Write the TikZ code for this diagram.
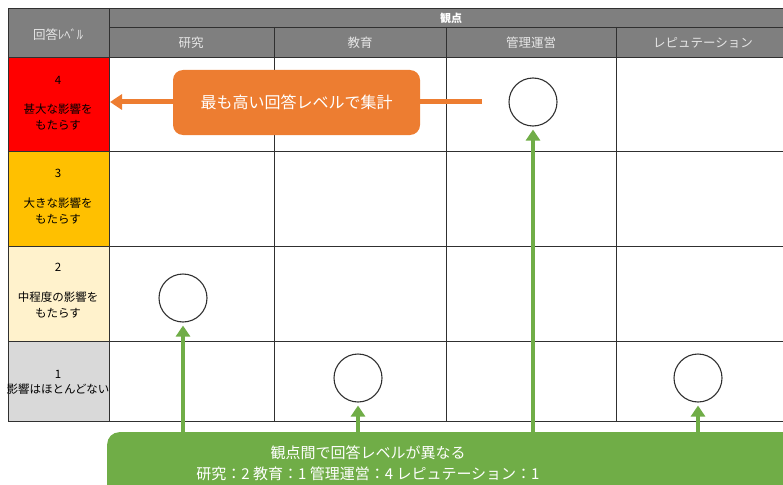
\documentclass[tikz,border=0pt]{standalone}
\usepackage{fontspec}
\setmainfont{Noto Sans CJK JP}
\usetikzlibrary{arrows.meta}
\definecolor{hdr}{HTML}{7F7F7F}
\definecolor{hdrtxt}{HTML}{E6E6E6}
\definecolor{lvfour}{HTML}{FF0000}
\definecolor{lvthree}{HTML}{FFC000}
\definecolor{lvtwo}{HTML}{FFF2CC}
\definecolor{lvone}{HTML}{D9D9D9}
\definecolor{orng}{HTML}{ED7D31}
\definecolor{grn}{HTML}{70AD47}
\definecolor{gridc}{HTML}{303030}
\tikzset{
  gridline/.style={draw=gridc, line width=0.9pt},
  hdrtext/.style={text=hdrtxt, font=\fontsize{12.5}{14}\selectfont, inner sep=0pt},
  lvtext/.style={text=black, font=\fontsize{11.5}{15.5}\selectfont, align=center, inner sep=0pt},
  mark circle/.style={circle, draw=gridc, line width=1.1pt, fill=white, minimum size=48pt, inner sep=0pt},
  oarrow/.style={draw=orng, line width=5pt, -{Triangle[width=15pt,length=12pt]}},
  garrow/.style={draw=grn, line width=4.5pt, -{Triangle[width=14pt,length=11pt]}},
  obox/.style={fill=orng, rounded corners=10pt, minimum width=247pt, minimum height=65pt, inner sep=0pt},
  gbox/.style={fill=grn, rounded corners=12pt, minimum width=700pt, minimum height=70pt, inner sep=0pt, anchor=north west},
  boxtext/.style={text=white, inner sep=0pt}
}
\begin{document}
\begin{tikzpicture}[x=1pt,y=-1pt]
\useasboundingbox (0,0) rectangle (783,484);
\begin{scope}
\clip (0,0) rectangle (783,484);
% fills
\fill[hdr] (8,8) rectangle (790,57);
\fill[lvfour] (8,57) rectangle (109,151);
\fill[lvthree] (8,151) rectangle (109,246);
\fill[lvtwo] (8,246) rectangle (109,341);
\fill[lvone] (8,341) rectangle (109,421);
% grid
\draw[gridline] (8,8) rectangle (790,421);
\draw[gridline] (109,27) -- (790,27);
\draw[gridline] (8,57) -- (790,57);
\draw[gridline] (8,151) -- (790,151);
\draw[gridline] (8,246) -- (790,246);
\draw[gridline] (8,341) -- (790,341);
\draw[gridline] (109,8) -- (109,421);
\draw[gridline] (274,27) -- (274,421);
\draw[gridline] (446,27) -- (446,421);
\draw[gridline] (616,27) -- (616,421);
% header texts
\node[hdrtext] (hlevel) at (58,35) {回答ﾚﾍﾞﾙ};
\node[text=white, font=\fontsize{11}{13}\selectfont\bfseries, inner sep=0pt] (hview) at (451,18) {観点};
\node[hdrtext] (hres) at (191,43) {研究};
\node[hdrtext] (hedu) at (360,43) {教育};
\node[hdrtext] (hman) at (531,43) {管理運営};
\node[hdrtext] (hrep) at (703,43) {レピュテーション};
% level texts
\node[lvtext] (n4) at (58,80) {4};
\node[lvtext] (t4) at (58,117) {甚大な影響を\\もたらす};
\node[lvtext] (n3) at (58,173) {3};
\node[lvtext] (t3) at (58,211) {大きな影響を\\もたらす};
\node[lvtext] (n2) at (58,267) {2};
\node[lvtext] (t2) at (58,305) {中程度の影響を\\もたらす};
\node[lvtext] (n1) at (58,374) {1};
\node[lvtext] (t1) at (58,389) {影響はほとんどない};
% circles
\node[mark circle] (c1) at (183,298) {};
\node[mark circle] (c2) at (358,378) {};
\node[mark circle] (c3) at (533,102) {};
\node[mark circle] (c4) at (698,378) {};
% orange arrow and box
\coordinate (oa) at (482,102);
\coordinate (ob) at (110,102);
\draw[oarrow] (oa) -- (ob);
\node[obox] (ob box) at (296.5,102.5) {};
\node[boxtext, font=\fontsize{16}{18}\selectfont] (otext) at (ob box) {最も高い回答レベルで集計};
% green box and arrows
\node[gbox] (gb) at (107,432) {};
\node[boxtext, font=\fontsize{15}{21}\selectfont, align=center] (gtext) at (368,463) {観点間で回答レベルが異なる\\研究：2 教育：1 管理運営：4 レピュテーション：1};
\draw[garrow] (c1.south |- gb.north) -- ([yshift=-3pt]c1.south);
\draw[garrow] (c2.south |- gb.north) -- ([yshift=-3pt]c2.south);
\draw[garrow] (c3.south |- gb.north) -- ([yshift=-3pt]c3.south);
\draw[garrow] (c4.south |- gb.north) -- ([yshift=-3pt]c4.south);
\end{scope}
\end{tikzpicture}
\end{document}
